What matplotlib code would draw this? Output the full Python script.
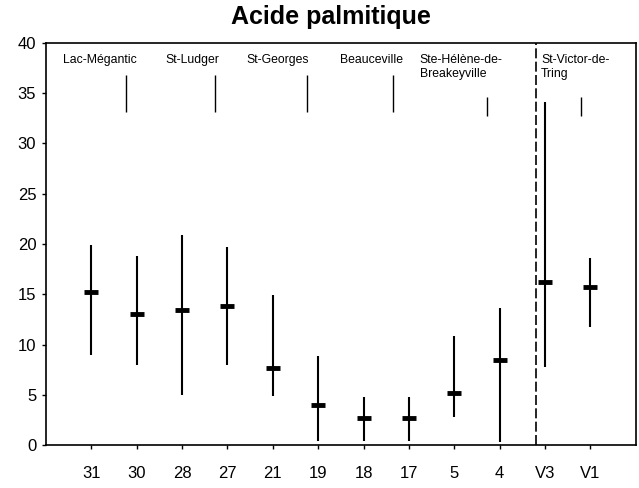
import matplotlib.pyplot as plt
import numpy as np

plt.rcParams['font.family'] = ['Liberation Sans', 'DejaVu Sans']

# sites (x tick labels) and palmitic acid values
sites = ['31', '30', '28', '27', '21', '19', '18', '17', '5', '4', 'V3', 'V1']
mean = [15.2, 13.0, 13.4, 13.8, 7.7, 4.0, 2.7, 2.7, 5.2, 8.5, 16.2, 15.7]
low = [9.0, 8.0, 5.0, 8.0, 4.9, 0.4, 0.4, 0.4, 2.8, 0.3, 7.8, 11.7]
high = [19.9, 18.8, 20.9, 19.7, 14.9, 8.9, 4.8, 4.8, 10.8, 13.6, 34.1, 18.6]

# town labels on top of the chart
towns = ['Lac-Mégantic', 'St-Ludger', 'St-Georges', 'Beauceville',
         'Ste-Hélène-de-\nBreakeyville', 'St-Victor-de-\nTring']
town_x = [0.38, 2.64, 4.42, 6.47, 8.24, 10.91]
tick_x = [1.76, 3.73, 5.76, 7.64, 9.71, 11.8]
tick_top = [36.8, 36.8, 36.8, 36.8, 34.6, 34.6]
tick_bot = [33.1, 33.1, 33.1, 33.1, 32.7, 32.7]

x = np.arange(1, len(sites) + 1)

fig = plt.figure(figsize=(6.39, 4.88), dpi=100)
ax = fig.add_axes([0.072, 0.088, 0.923, 0.824])

ax.vlines(x, low, high, color='black', lw=1.5)
ax.plot(x, mean, ls='none', marker='_', ms=10, mew=3.5, color='black')

# separator between river sites and V sites
ax.axvline(10.8, color='black', lw=1.2, ls=(0, (6, 2)))

for name, tx in zip(towns, town_x):
    ax.text(tx, 38.9, name, ha='left', va='top', fontsize=8.8, linespacing=1.25)
ax.vlines(tick_x, tick_bot, tick_top, color='black', lw=1)

ax.set_xlim(0, 13)
ax.set_ylim(0, 40)
ax.set_yticks(range(0, 41, 5))
ax.set_xticks(x)
ax.set_xticklabels(sites)
ax.tick_params(labelsize=12, length=3, width=1)
ax.tick_params(axis='x', pad=12)
ax.tick_params(axis='y', pad=4)
for s in ax.spines.values():
    s.set_linewidth(1.2)

fig.text(0.518, 0.965, 'Acide palmitique', fontsize=18, fontweight='bold',
         ha='center', va='center')

fig.savefig('out.png', dpi=100)
